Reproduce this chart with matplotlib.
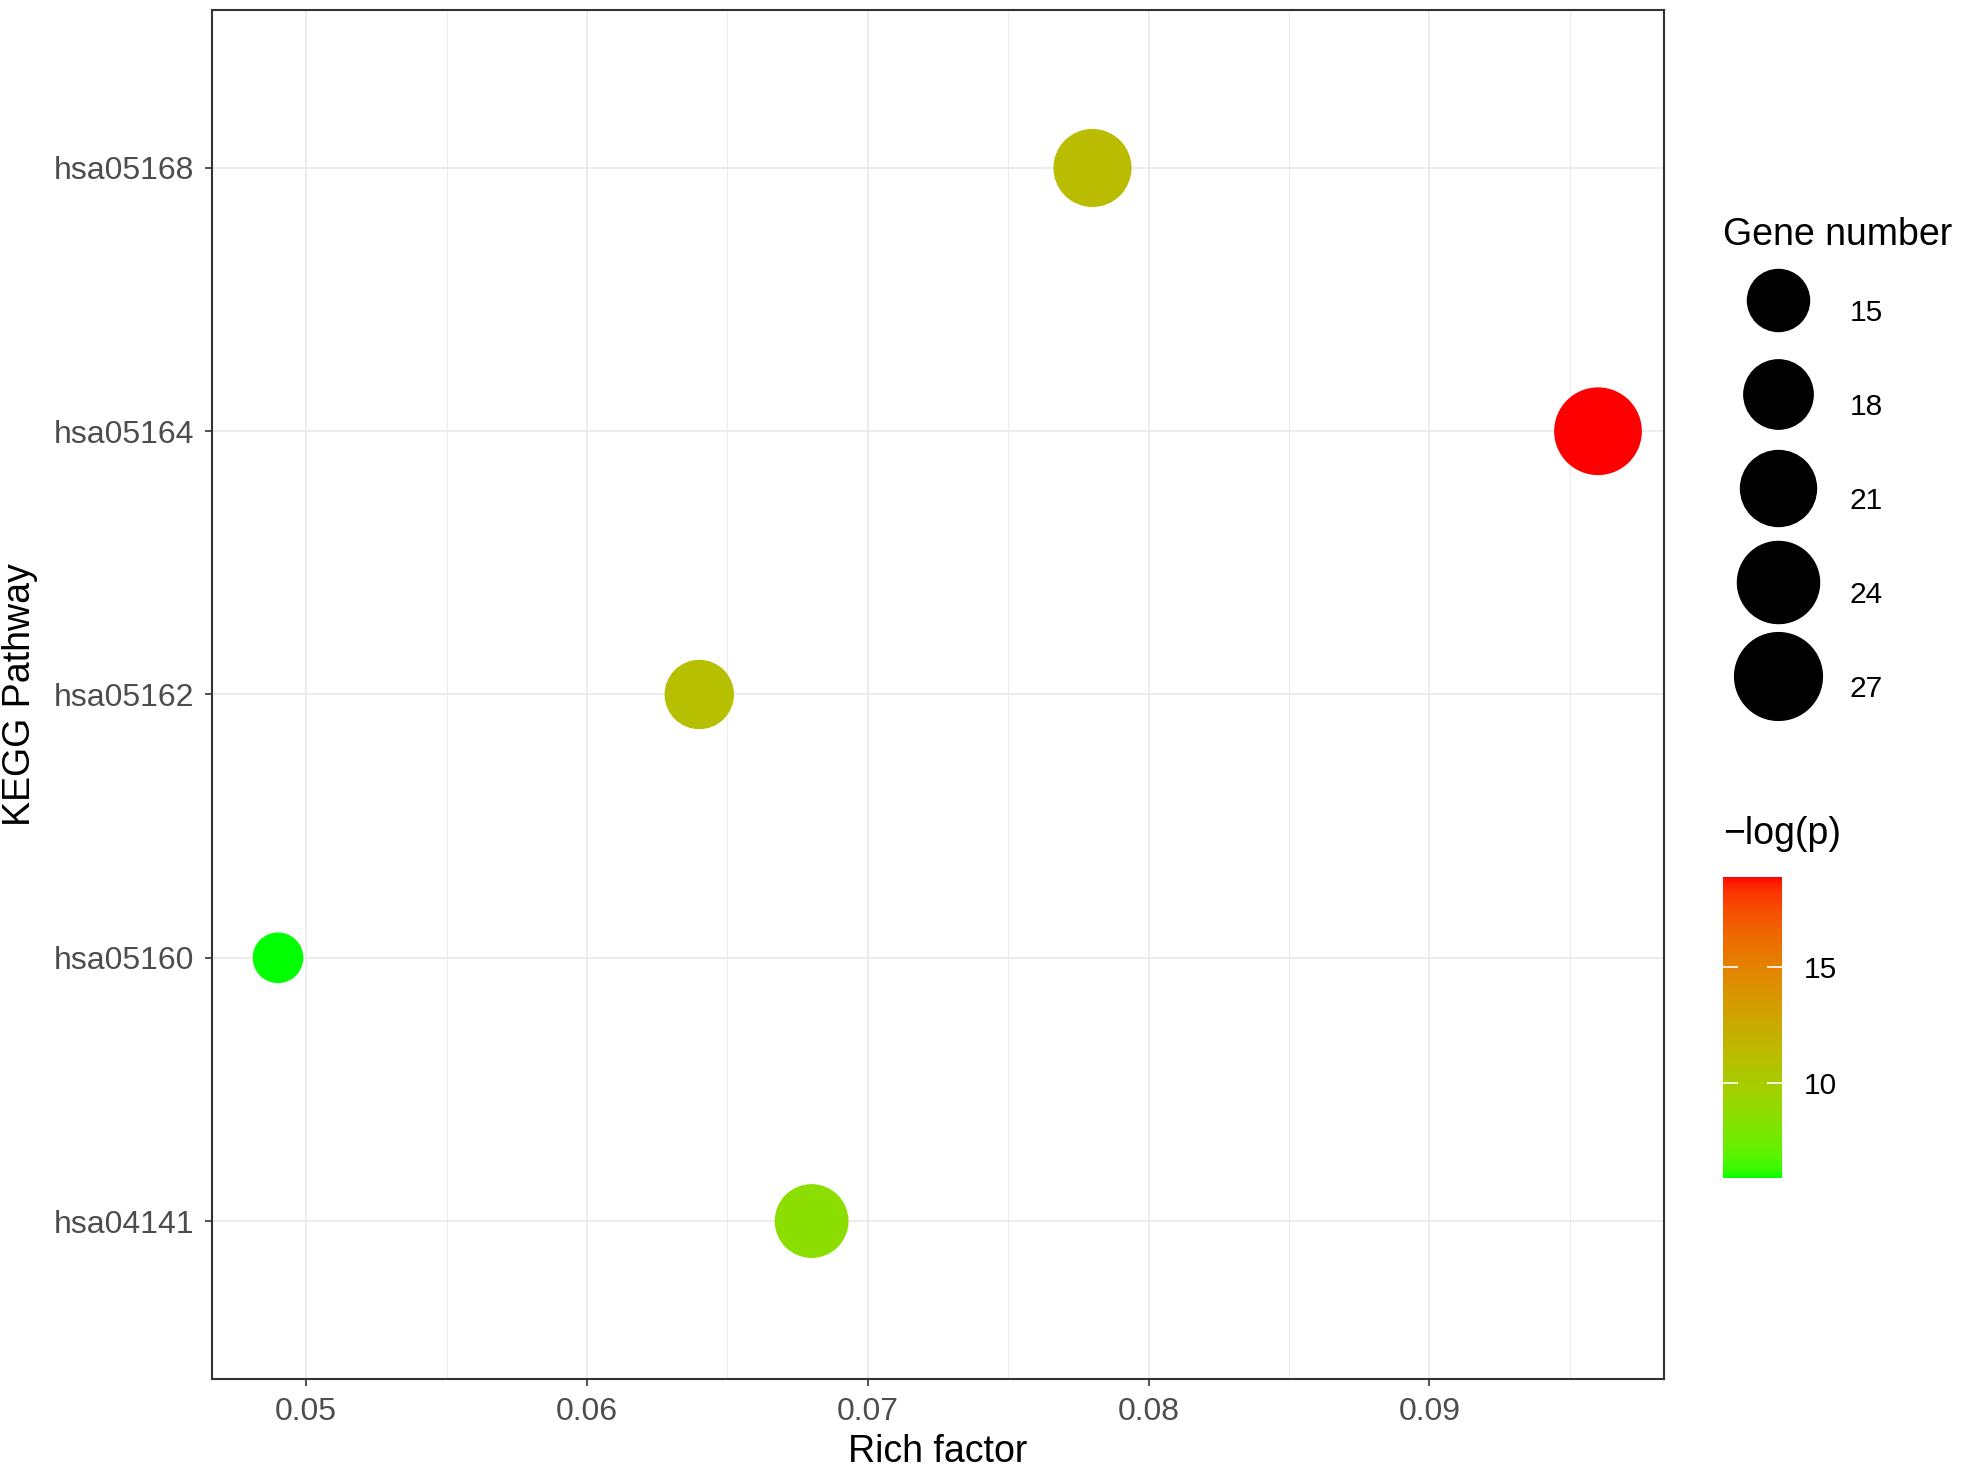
import matplotlib
matplotlib.use("Agg")
import matplotlib.pyplot as plt
from matplotlib.colors import ListedColormap, Normalize
from matplotlib.lines import Line2D
from matplotlib.ticker import MultipleLocator
import numpy as np

plt.rcParams.update({
    "font.family": ["Liberation Sans", "DejaVu Sans"],
    "axes.unicode_minus": True,
})

# data (bottom -> top)
pathways = ["hsa04141", "hsa05160", "hsa05162", "hsa05164", "hsa05168"]
rich_factor = [0.068, 0.049, 0.064, 0.096, 0.078]
gene_number = [20, 11, 18, 27, 22]
neg_log_p = [8.6, 5.9, 11.0, 18.9, 11.2]

legend_sizes = [15, 18, 21, 24, 27]
cbar_ticks = [10, 15]


def srgb_to_lab(rgb):
    rgb = np.asarray(rgb, float)
    lin = np.where(rgb > 0.04045, ((rgb + 0.055) / 1.055) ** 2.4, rgb / 12.92)
    m = np.array([[0.4124, 0.3576, 0.1805],
                  [0.2126, 0.7152, 0.0722],
                  [0.0193, 0.1192, 0.9505]])
    xyz = m @ lin / np.array([0.95047, 1.0, 1.08883])
    f = np.where(xyz > 0.008856, np.cbrt(xyz), 7.787 * xyz + 16 / 116)
    return np.array([116 * f[1] - 16, 500 * (f[0] - f[1]), 200 * (f[1] - f[2])])


def lab_to_srgb(lab):
    L, a, b = lab
    fy = (L + 16) / 116
    fx = fy + a / 500
    fz = fy - b / 200
    f = np.array([fx, fy, fz])
    xyz = np.where(f ** 3 > 0.008856, f ** 3, (f - 16 / 116) / 7.787)
    xyz = xyz * np.array([0.95047, 1.0, 1.08883])
    minv = np.array([[3.2406, -1.5372, -0.4986],
                     [-0.9689, 1.8758, 0.0415],
                     [0.0557, -0.2040, 1.0570]])
    lin = np.clip(minv @ xyz, 0, 1)
    rgb = np.where(lin > 0.0031308, 1.055 * lin ** (1 / 2.4) - 0.055, 12.92 * lin)
    return np.clip(rgb, 0, 1)


# green -> red gradient interpolated in Lab, like scale_colour_gradient
lo, hi = srgb_to_lab([0, 1, 0]), srgb_to_lab([1, 0, 0])
cmap = ListedColormap([lab_to_srgb(lo + t * (hi - lo)) for t in np.linspace(0, 1, 256)])
norm = Normalize(vmin=min(neg_log_p), vmax=max(neg_log_p))


def marker_area(n):
    # area (pt^2) linear in gene number
    px2 = 320.7 * np.asarray(n, float) - 962.0
    return px2 / (100 / 72) ** 2


fig = plt.figure(figsize=(19.65, 14.74), dpi=100)
ax = fig.add_axes([212 / 1965, 1 - 1379 / 1474, 1452 / 1965, 1369 / 1474])

ax.scatter(rich_factor, pathways, s=marker_area(gene_number), c=neg_log_p,
           cmap=cmap, norm=norm, linewidths=0, zorder=3)

span = max(rich_factor) - min(rich_factor)
ax.set_xlim(min(rich_factor) - 0.05 * span, max(rich_factor) + 0.05 * span)
ax.set_ylim(-0.6, len(pathways) - 0.4)
ax.xaxis.set_major_locator(MultipleLocator(0.01))
ax.xaxis.set_minor_locator(MultipleLocator(0.005))
ax.xaxis.set_major_formatter(matplotlib.ticker.FormatStrFormatter("%.2f"))

ax.grid(True, which="major", color="#EBEBEB", lw=1.3, zorder=0)
ax.grid(True, which="minor", axis="x", color="#EBEBEB", lw=0.7, zorder=0)
ax.set_axisbelow(True)
ax.tick_params(axis="x", which="minor", length=0)
ax.tick_params(which="major", length=5, width=1.2, color="#333333",
               labelsize=23, labelcolor="#4D4D4D", pad=8)
for sp in ax.spines.values():
    sp.set_color("#333333")
    sp.set_linewidth(1.5)

ax.set_xlabel("Rich factor", fontsize=27, labelpad=5)
ax.set_ylabel("KEGG Pathway", fontsize=27, labelpad=11)

# size legend
handles = [Line2D([], [], ls="", marker="o", color="black",
                  markersize=np.sqrt(marker_area(v))) for v in legend_sizes]
leg = fig.legend(handles, [str(v) for v in legend_sizes], title="Gene number",
                 loc="upper left", bbox_to_anchor=(1702 / 1965, 1 - 196 / 1474),
                 frameon=False, fontsize=21.5, title_fontsize=27,
                 handlelength=3.7, handletextpad=0.55, labelspacing=0.85,
                 handleheight=3.16, borderpad=0.2, alignment="left")

# colour bar
cax = fig.add_axes([1723 / 1965, 1 - 1178 / 1474, 59 / 1965, 301 / 1474])
sm = plt.cm.ScalarMappable(norm=norm, cmap=cmap)
cb = fig.colorbar(sm, cax=cax, ticks=cbar_ticks)
cb.outline.set_visible(False)
cax.yaxis.set_ticks_position("both")
cax.tick_params(direction="in", length=11, width=1.2, color="white",
                labelsize=21.5, labelcolor="#000000", pad=16, labelleft=False)
cax.set_title("\u2212log(p)", fontsize=27, loc="left", pad=24)

fig.savefig("out.png", dpi=100)
